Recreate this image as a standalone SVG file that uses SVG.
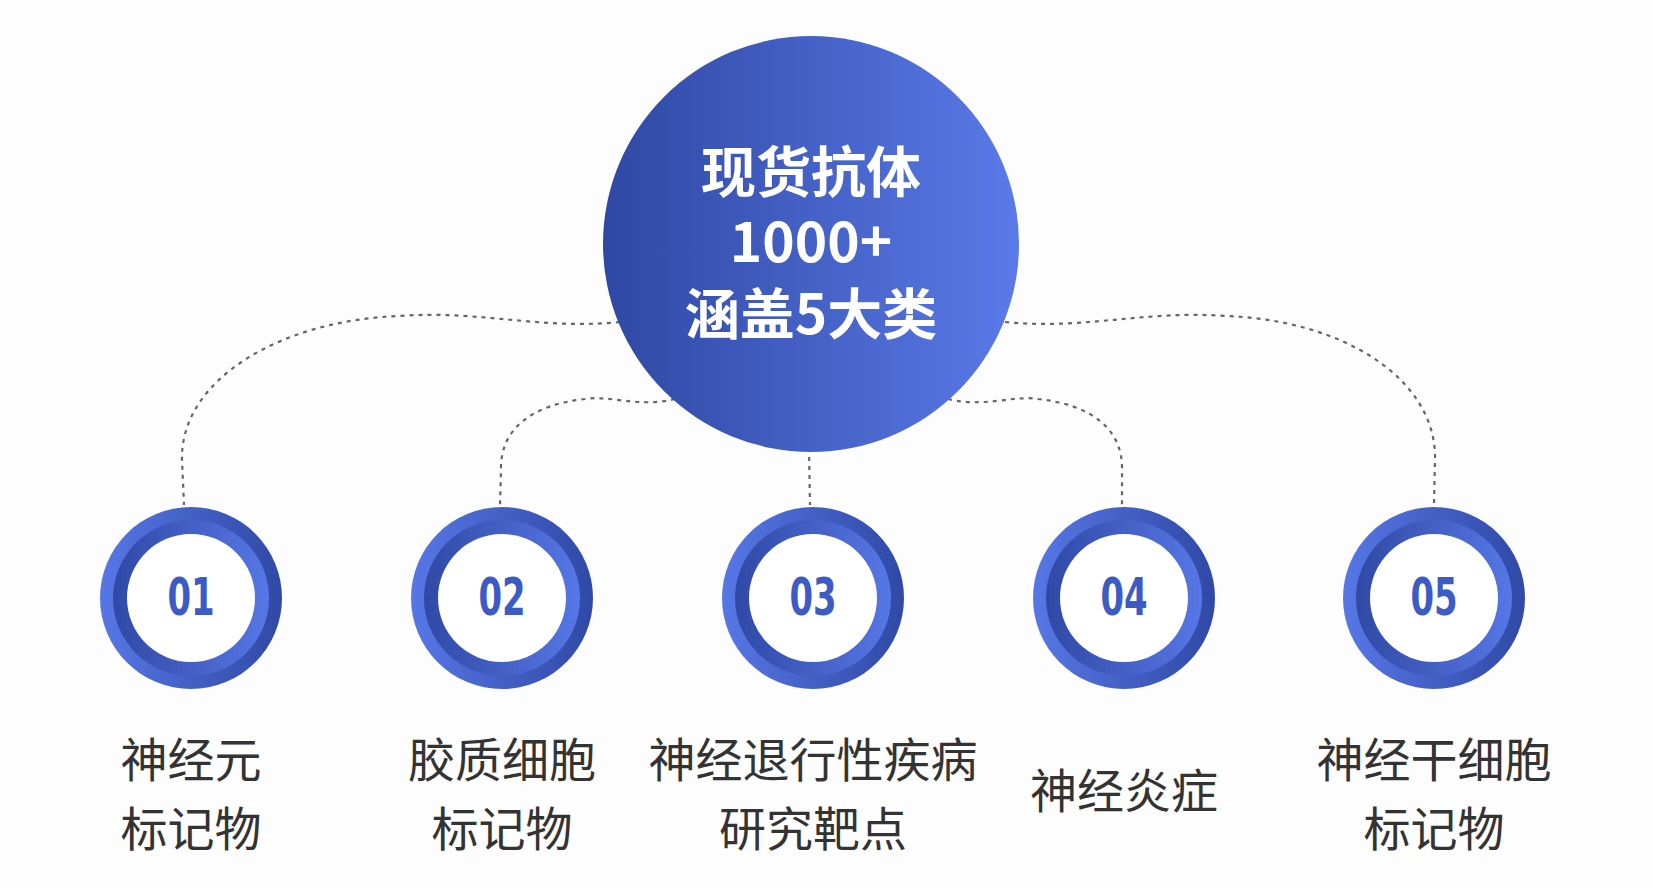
<svg xmlns="http://www.w3.org/2000/svg" width="1654" height="888" viewBox="0 0 1654 888">
<defs>
<linearGradient id="big" x1="0" y1="0" x2="1" y2="0"><stop offset="0" stop-color="#2f48a3"/><stop offset="1" stop-color="#5a7ae8"/></linearGradient>
<linearGradient id="ro" x1="0" y1="0" x2="1" y2="0"><stop offset="0" stop-color="#5677e6"/><stop offset="1" stop-color="#3049a5"/></linearGradient>
<linearGradient id="ri" x1="0" y1="0" x2="1" y2="0"><stop offset="0" stop-color="#3049a5"/><stop offset="1" stop-color="#5677e6"/></linearGradient>
<g id="ring"><circle r="91" fill="url(#ro)"/><circle r="78" fill="url(#ri)"/><circle r="64" fill="#fff"/></g>
</defs>
<style>
.c{fill:none;stroke:#666;stroke-width:2.2;stroke-dasharray:4 5}
.n{font-family:"DejaVu Sans Condensed","DejaVu Sans",sans-serif;font-weight:bold;font-size:46px;fill:#3d5bc4;text-anchor:middle}
.l{font-family:"Noto Sans CJK SC",sans-serif;font-size:47px;fill:#333;text-anchor:middle}
.h{font-family:"Noto Sans CJK SC",sans-serif;font-weight:bold;font-size:55px;fill:#fff;text-anchor:middle}
</style>
<rect width="1654" height="888" fill="#fdfdfd"/>
<g id="connectors">
<path class="c" d="M620,322 C540,330 480,310 400,316 C280,320 180,380 182,460 L184,505"/>
<path class="c" d="M675,399 C640,408 610,395 585,399 C530,405 500,430 501,470 L500,505"/>
<path class="c" d="M809,448 L810,505"/>
<path class="c" d="M948,399 C983,408 1013,395 1038,399 C1093,405 1123,430 1122,470 L1122,505"/>
<path class="c" d="M1005,322 C1085,330 1145,310 1225,316 C1345,320 1437,380 1435,460 L1434,505"/>
</g>
<g id="center"><circle cx="811" cy="244" r="208" fill="url(#big)"/>
<text class="h" x="811" y="192">现货抗体</text>
<text class="h" x="811" y="262">1000+</text>
<text class="h" x="811" y="334">涵盖5大类</text></g>
<g id="n1"><use href="#ring" x="191" y="598"/><text class="n" transform="translate(191,615) scale(0.82,1.12)">01</text><text class="l" x="191" y="777">神经元</text><text class="l" x="191" y="846">标记物</text></g>
<g id="n2"><use href="#ring" x="502" y="598"/><text class="n" transform="translate(502,615) scale(0.82,1.12)">02</text><text class="l" x="502" y="777">胶质细胞</text><text class="l" x="502" y="846">标记物</text></g>
<g id="n3"><use href="#ring" x="813" y="598"/><text class="n" transform="translate(813,615) scale(0.82,1.12)">03</text><text class="l" x="813" y="777">神经退行性疾病</text><text class="l" x="813" y="846">研究靶点</text></g>
<g id="n4"><use href="#ring" x="1124" y="598"/><text class="n" transform="translate(1124,615) scale(0.82,1.12)">04</text><text class="l" x="1124" y="808">神经炎症</text></g>
<g id="n5"><use href="#ring" x="1434" y="598"/><text class="n" transform="translate(1434,615) scale(0.82,1.12)">05</text><text class="l" x="1434" y="777">神经干细胞</text><text class="l" x="1434" y="846">标记物</text></g>
</svg>
